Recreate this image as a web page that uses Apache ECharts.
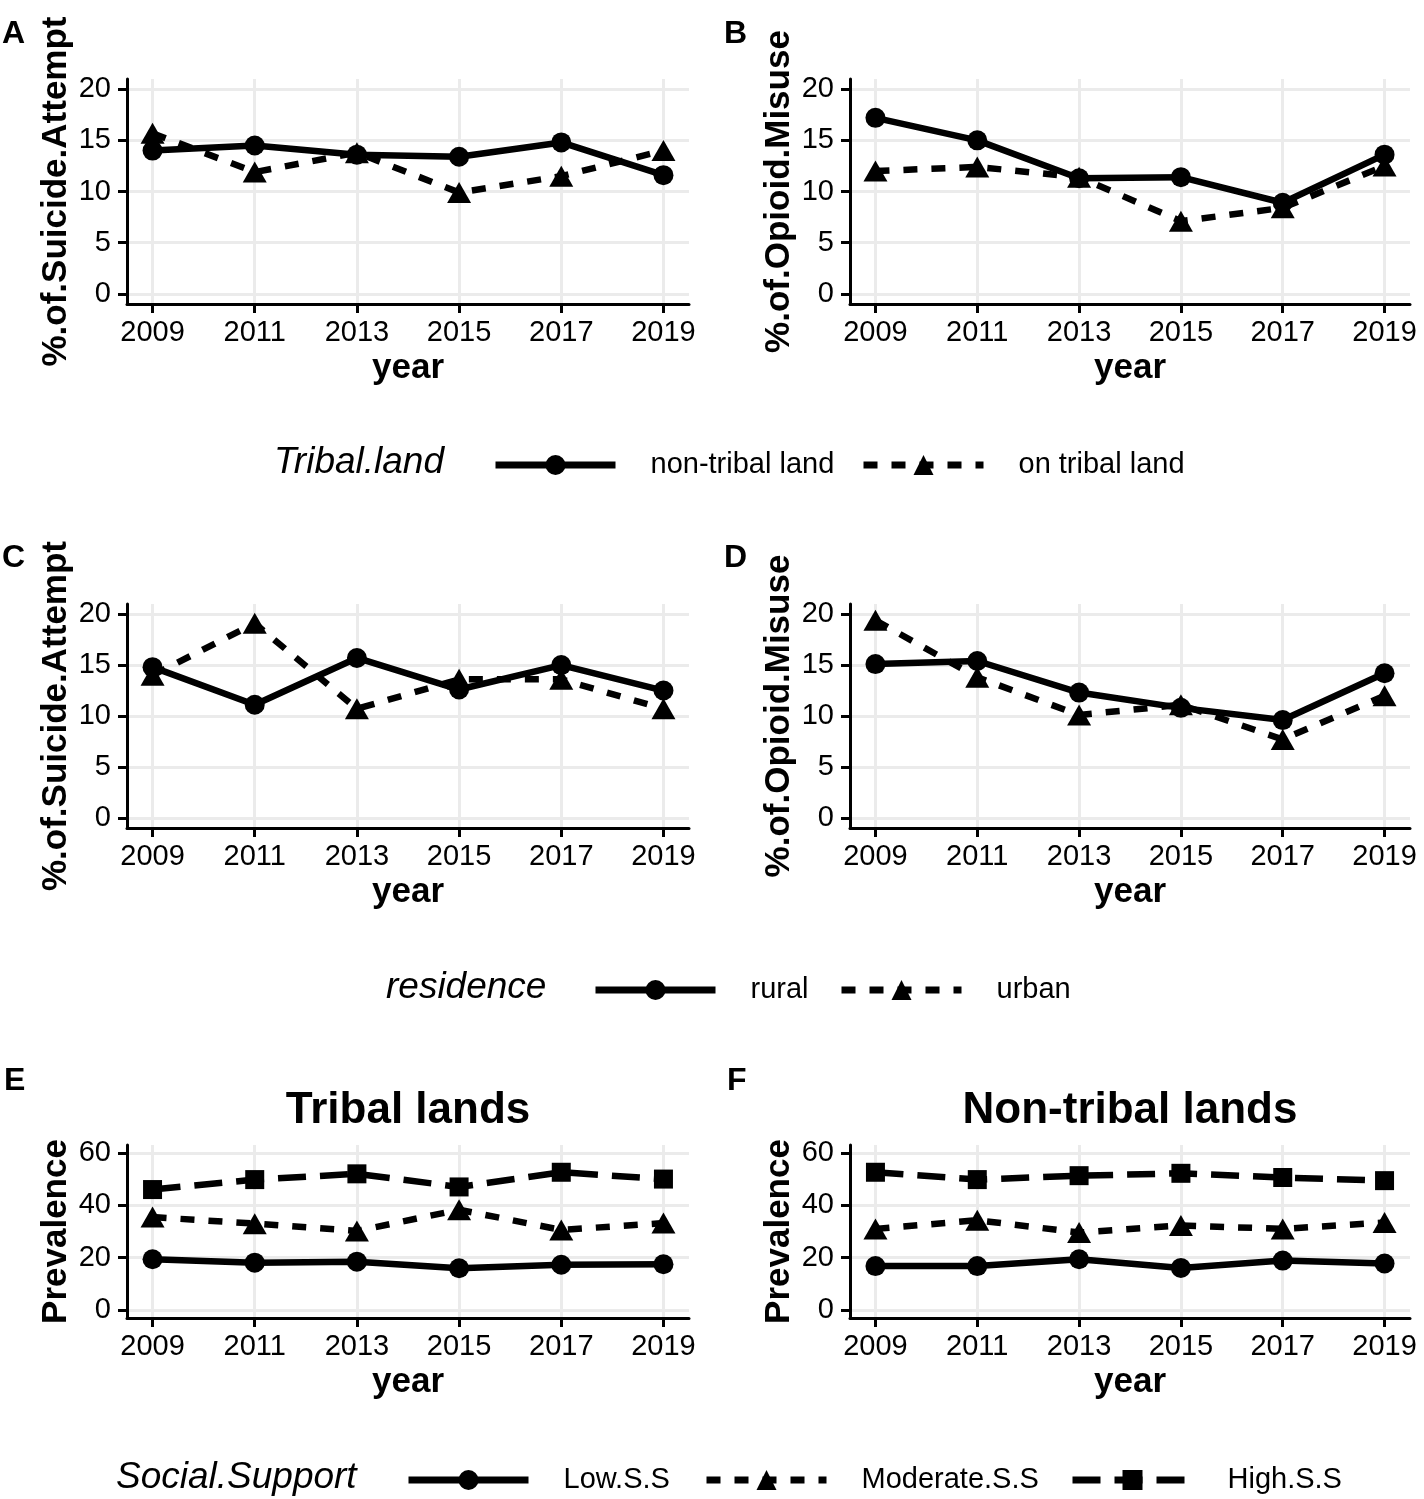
<!DOCTYPE html>
<html><head><meta charset="utf-8">
<script src="https://cdn.jsdelivr.net/npm/echarts@6/dist/echarts.min.js"></script>
<style>html,body{margin:0;padding:0;background:#fff}#c{width:1424px;height:1499px}</style>
</head><body><div id="c"></div>
<script>
// ---------- data ----------
const years = [2009, 2011, 2013, 2015, 2017, 2019];
const yearTicks = [2009, 2011, 2013, 2015, 2017, 2019];
const pctTicks = [0, 5, 10, 15, 20];
const prevTicks = [0, 20, 40, 60];

const suicideNonTribal = [14.0, 14.5, 13.6, 13.4, 14.8, 11.6];
const suicideOnTribal  = [15.7, 11.9, 13.8, 9.9, 11.5, 14.0];
const opioidNonTribal  = [17.2, 15.0, 11.3, 11.4, 8.9, 13.6];
const opioidOnTribal   = [12.0, 12.4, 11.4, 7.1, 8.4, 12.5];
const suicideRural     = [14.8, 11.1, 15.7, 12.6, 15.0, 12.5];
const suicideUrban     = [14.0, 19.1, 10.7, 13.6, 13.6, 10.7];
const opioidRural      = [15.1, 15.4, 12.3, 10.8, 9.6, 14.2];
const opioidUrban      = [19.4, 13.8, 10.1, 11.1, 7.7, 12.0];
const tribalLow        = [19.4, 18.1, 18.5, 16.0, 17.3, 17.5];
const tribalModerate   = [35.5, 33.0, 30.2, 38.3, 30.6, 33.2];
const tribalHigh       = [46.0, 49.8, 52.0, 47.0, 52.6, 50.0];
const nonTribalLow     = [16.8, 16.8, 19.4, 16.1, 18.9, 17.8];
const nonTribalModerate= [31.0, 34.3, 29.6, 32.3, 31.0, 33.4];
const nonTribalHigh    = [52.6, 49.8, 51.3, 52.2, 50.6, 49.4];

// ---------- styling ----------
const FONT = "'Liberation Sans', Arial, Helvetica, sans-serif";
const LW = 6.5;
const STY = {
  solid:   {dash: 'solid',  symbol: 'circle',   size: 20},
  dash22:  {dash: [14, 14], symbol: 'triangle', size: [24, 21]},
  dash42:  {dash: [28, 14], symbol: 'rect',     size: 19}
};

const grids = [
  {left: 127, top: 79,   width: 562, height: 225},
  {left: 850, top: 79,   width: 560, height: 225},
  {left: 127, top: 604,  width: 562, height: 224},
  {left: 850, top: 604,  width: 560, height: 224},
  {left: 127, top: 1145, width: 562, height: 173},
  {left: 850, top: 1145, width: 560, height: 173}
];

function xAx(i) {
  return {
    type: 'value', gridIndex: i, min: 2008.5, max: 2019.5,
    axisLine: {show: true, onZero: false, lineStyle: {color: '#000', width: 3}},
    axisTick: {show: true, length: 9, lineStyle: {color: '#000', width: 3}, customValues: yearTicks},
    axisLabel: {customValues: yearTicks, fontSize: 29, color: '#000', margin: 14, fontFamily: FONT,
                formatter: v => String(v)},
    splitLine: {show: true, lineStyle: {color: '#ebebeb', width: 3}},
    name: 'year', nameLocation: 'middle', nameGap: 47,
    nameTextStyle: {fontSize: 35, fontWeight: 'bold', color: '#000', fontFamily: FONT}
  };
}
function yAx(i, name, lo, hi, ticks) {
  return {
    type: 'value', gridIndex: i, min: lo, max: hi,
    axisLine: {show: true, onZero: false, lineStyle: {color: '#000', width: 3}},
    axisTick: {show: true, length: 9, lineStyle: {color: '#000', width: 3}, customValues: ticks},
    axisLabel: {customValues: ticks, fontSize: 29, color: '#000', margin: 16, fontFamily: FONT,
                formatter: v => String(v)},
    splitLine: {show: true, lineStyle: {color: '#ebebeb', width: 3}},
    name: name, nameLocation: 'middle', nameRotate: 90, nameGap: 53,
    nameTextStyle: {fontSize: 35, fontWeight: 'bold', color: '#000', fontFamily: FONT}
  };
}
function ser(name, vals, i, s) {
  return {
    type: 'line', name: name, xAxisIndex: i, yAxisIndex: i,
    data: years.map((y, k) => [y, vals[k]]),
    symbol: s.symbol, symbolSize: s.size, showSymbol: true,
    lineStyle: {color: '#000', width: LW, type: s.dash, cap: 'butt'},
    itemStyle: {color: '#000'},
    emphasis: {disabled: true}, animation: false
  };
}

const series = [
  ser('non-tribal land', suicideNonTribal, 0, STY.solid),
  ser('on tribal land',  suicideOnTribal,  0, STY.dash22),
  ser('non-tribal land', opioidNonTribal,  1, STY.solid),
  ser('on tribal land',  opioidOnTribal,   1, STY.dash22),
  ser('rural', suicideRural, 2, STY.solid),
  ser('urban', suicideUrban, 2, STY.dash22),
  ser('rural', opioidRural,  3, STY.solid),
  ser('urban', opioidUrban,  3, STY.dash22),
  ser('Low.S.S',      tribalLow,      4, STY.solid),
  ser('Moderate.S.S', tribalModerate, 4, STY.dash22),
  ser('High.S.S',     tribalHigh,     4, STY.dash42),
  ser('Low.S.S',      nonTribalLow,      5, STY.solid),
  ser('Moderate.S.S', nonTribalModerate, 5, STY.dash22),
  ser('High.S.S',     nonTribalHigh,     5, STY.dash42)
];

function leg(name, left, cy, s) {
  return {
    data: [name], left: left, top: cy - 12.5, padding: 0, orient: 'horizontal',
    itemWidth: 120, itemHeight: 25, selectedMode: false,
    lineStyle: {width: 7, type: s.dash, color: '#000', cap: 'butt'},
    textStyle: {fontSize: 29, color: '#000', fontFamily: FONT, padding: [0, 0, 0, 30]}
  };
}

function txt(s, x, y, size, opts) {
  return {
    type: 'text', x: x, y: y, silent: true,
    style: Object.assign({text: s, fontSize: size, fontFamily: FONT, fill: '#000',
      textAlign: 'left', textVerticalAlign: 'middle'}, opts || {})
  };
}

const option = {
  backgroundColor: '#fff',
  animation: false,
  textStyle: {fontFamily: FONT},
  grid: grids,
  xAxis: [0,1,2,3,4,5].map(xAx),
  yAxis: [
    yAx(0, '%.of.Suicide.Attempt', -1, 21, pctTicks),
    yAx(1, '%.of.Opioid.Misuse', -1, 21, pctTicks),
    yAx(2, '%.of.Suicide.Attempt', -1, 21, pctTicks),
    yAx(3, '%.of.Opioid.Misuse', -1, 21, pctTicks),
    yAx(4, 'Prevalence', -3, 63, prevTicks),
    yAx(5, 'Prevalence', -3, 63, prevTicks)
  ],
  legend: [
    leg('non-tribal land', 492, 463, STY.solid), leg('on tribal land', 860, 463, STY.dash22),
    leg('rural', 592, 988, STY.solid), leg('urban', 838, 988, STY.dash22),
    leg('Low.S.S', 405, 1478, STY.solid), leg('Moderate.S.S', 703, 1478, STY.dash22),
    leg('High.S.S', 1069, 1478, STY.dash42)
  ],
  graphic: [
    txt('A', 2, 34, 32, {fontWeight: 'bold'}),
    txt('B', 724, 34, 32, {fontWeight: 'bold'}),
    txt('C', 2, 558, 32, {fontWeight: 'bold'}),
    txt('D', 724, 558, 32, {fontWeight: 'bold'}),
    txt('E', 4, 1081, 32, {fontWeight: 'bold'}),
    txt('F', 727, 1081, 32, {fontWeight: 'bold'}),
    txt('Tribal lands', 408, 1111, 44, {fontWeight: 'bold', textAlign: 'center'}),
    txt('Non-tribal lands', 1130, 1111, 44, {fontWeight: 'bold', textAlign: 'center'}),
    txt('Tribal.land', 274, 463, 37, {fontStyle: 'italic'}),
    txt('residence', 386, 988, 37, {fontStyle: 'italic'}),
    txt('Social.Support', 116, 1478, 37, {fontStyle: 'italic'})
  ],
  series: series
};

const chart = echarts.init(document.getElementById('c'), null, {renderer: 'canvas'});
chart.setOption(option);
</script>
</body></html>
